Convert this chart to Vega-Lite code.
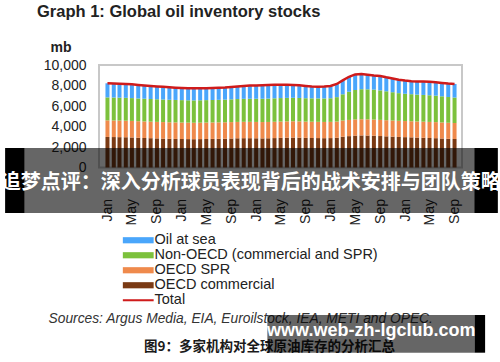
{
  "$schema": "https://vega.github.io/schema/vega-lite/v6.json",
  "width": 363,
  "height": 102.5,
  "autosize": {"type": "none"},
  "padding": {"left": 99, "top": 65, "right": 38, "bottom": 194.5},
  "background": "white",
  "title": {
    "text": "Graph 1: Global oil inventory stocks",
    "anchor": "start",
    "frame": "group",
    "dx": -62,
    "offset": 20,
    "font": "Liberation Sans",
    "fontSize": 16.5,
    "fontWeight": "bold",
    "color": "#222222"
  },
  "config": {
    "view": {"stroke": "#c8c8c8", "strokeWidth": 2},
    "font": "Liberation Sans",
    "axis": {"labelOverlap": false, "labelFlush": false, "labelBound": false}
  },
  "data": {
    "values": [
      {"date": "2017-01-15", "oecd_comm": 2980, "oecd_spr": 1620, "non_oecd": 2240, "sea": 1375, "total": 8215},
      {"date": "2017-02-15", "oecd_comm": 2970, "oecd_spr": 1619, "non_oecd": 2240, "sea": 1371, "total": 8200},
      {"date": "2017-03-15", "oecd_comm": 2960, "oecd_spr": 1618, "non_oecd": 2235, "sea": 1367, "total": 8180},
      {"date": "2017-04-15", "oecd_comm": 2950, "oecd_spr": 1617, "non_oecd": 2230, "sea": 1353, "total": 8150},
      {"date": "2017-05-15", "oecd_comm": 2930, "oecd_spr": 1616, "non_oecd": 2225, "sea": 1339, "total": 8110},
      {"date": "2017-06-15", "oecd_comm": 2900, "oecd_spr": 1615, "non_oecd": 2220, "sea": 1325, "total": 8060},
      {"date": "2017-07-15", "oecd_comm": 2880, "oecd_spr": 1614, "non_oecd": 2215, "sea": 1301, "total": 8010},
      {"date": "2017-08-15", "oecd_comm": 2860, "oecd_spr": 1613, "non_oecd": 2210, "sea": 1277, "total": 7960},
      {"date": "2017-09-15", "oecd_comm": 2840, "oecd_spr": 1612, "non_oecd": 2205, "sea": 1253, "total": 7910},
      {"date": "2017-10-15", "oecd_comm": 2820, "oecd_spr": 1611, "non_oecd": 2200, "sea": 1239, "total": 7870},
      {"date": "2017-11-15", "oecd_comm": 2800, "oecd_spr": 1610, "non_oecd": 2195, "sea": 1225, "total": 7830},
      {"date": "2017-12-15", "oecd_comm": 2790, "oecd_spr": 1609, "non_oecd": 2190, "sea": 1201, "total": 7790},
      {"date": "2018-01-15", "oecd_comm": 2780, "oecd_spr": 1608, "non_oecd": 2185, "sea": 1187, "total": 7760},
      {"date": "2018-02-15", "oecd_comm": 2770, "oecd_spr": 1607, "non_oecd": 2180, "sea": 1183, "total": 7740},
      {"date": "2018-03-15", "oecd_comm": 2760, "oecd_spr": 1606, "non_oecd": 2180, "sea": 1184, "total": 7730},
      {"date": "2018-04-15", "oecd_comm": 2770, "oecd_spr": 1605, "non_oecd": 2185, "sea": 1170, "total": 7730},
      {"date": "2018-05-15", "oecd_comm": 2780, "oecd_spr": 1604, "non_oecd": 2190, "sea": 1166, "total": 7740},
      {"date": "2018-06-15", "oecd_comm": 2790, "oecd_spr": 1603, "non_oecd": 2195, "sea": 1162, "total": 7750},
      {"date": "2018-07-15", "oecd_comm": 2800, "oecd_spr": 1602, "non_oecd": 2200, "sea": 1168, "total": 7770},
      {"date": "2018-08-15", "oecd_comm": 2810, "oecd_spr": 1601, "non_oecd": 2210, "sea": 1179, "total": 7800},
      {"date": "2018-09-15", "oecd_comm": 2830, "oecd_spr": 1600, "non_oecd": 2220, "sea": 1200, "total": 7850},
      {"date": "2018-10-15", "oecd_comm": 2850, "oecd_spr": 1599, "non_oecd": 2230, "sea": 1221, "total": 7900},
      {"date": "2018-11-15", "oecd_comm": 2860, "oecd_spr": 1598, "non_oecd": 2240, "sea": 1252, "total": 7950},
      {"date": "2018-12-15", "oecd_comm": 2860, "oecd_spr": 1597, "non_oecd": 2250, "sea": 1283, "total": 7990},
      {"date": "2019-01-15", "oecd_comm": 2850, "oecd_spr": 1596, "non_oecd": 2260, "sea": 1294, "total": 8000},
      {"date": "2019-02-15", "oecd_comm": 2840, "oecd_spr": 1595, "non_oecd": 2270, "sea": 1315, "total": 8020},
      {"date": "2019-03-15", "oecd_comm": 2850, "oecd_spr": 1594, "non_oecd": 2280, "sea": 1326, "total": 8050},
      {"date": "2019-04-15", "oecd_comm": 2870, "oecd_spr": 1593, "non_oecd": 2285, "sea": 1322, "total": 8070},
      {"date": "2019-05-15", "oecd_comm": 2890, "oecd_spr": 1592, "non_oecd": 2290, "sea": 1308, "total": 8080},
      {"date": "2019-06-15", "oecd_comm": 2910, "oecd_spr": 1591, "non_oecd": 2290, "sea": 1289, "total": 8080},
      {"date": "2019-07-15", "oecd_comm": 2920, "oecd_spr": 1590, "non_oecd": 2290, "sea": 1260, "total": 8060},
      {"date": "2019-08-15", "oecd_comm": 2910, "oecd_spr": 1589, "non_oecd": 2285, "sea": 1236, "total": 8020},
      {"date": "2019-09-15", "oecd_comm": 2890, "oecd_spr": 1588, "non_oecd": 2280, "sea": 1202, "total": 7960},
      {"date": "2019-10-15", "oecd_comm": 2880, "oecd_spr": 1587, "non_oecd": 2280, "sea": 1163, "total": 7910},
      {"date": "2019-11-15", "oecd_comm": 2870, "oecd_spr": 1586, "non_oecd": 2285, "sea": 1149, "total": 7890},
      {"date": "2019-12-15", "oecd_comm": 2860, "oecd_spr": 1585, "non_oecd": 2290, "sea": 1165, "total": 7900},
      {"date": "2020-01-15", "oecd_comm": 2870, "oecd_spr": 1584, "non_oecd": 2300, "sea": 1196, "total": 7950},
      {"date": "2020-02-15", "oecd_comm": 2900, "oecd_spr": 1583, "non_oecd": 2380, "sea": 1287, "total": 8150},
      {"date": "2020-03-15", "oecd_comm": 3000, "oecd_spr": 1582, "non_oecd": 2560, "sea": 1358, "total": 8500},
      {"date": "2020-04-15", "oecd_comm": 3060, "oecd_spr": 1581, "non_oecd": 2750, "sea": 1459, "total": 8850},
      {"date": "2020-05-15", "oecd_comm": 3110, "oecd_spr": 1580, "non_oecd": 2870, "sea": 1520, "total": 9080},
      {"date": "2020-06-15", "oecd_comm": 3130, "oecd_spr": 1579, "non_oecd": 2930, "sea": 1481, "total": 9120},
      {"date": "2020-07-15", "oecd_comm": 3120, "oecd_spr": 1578, "non_oecd": 2930, "sea": 1422, "total": 9050},
      {"date": "2020-08-15", "oecd_comm": 3100, "oecd_spr": 1577, "non_oecd": 2920, "sea": 1383, "total": 8980},
      {"date": "2020-09-15", "oecd_comm": 3070, "oecd_spr": 1576, "non_oecd": 2880, "sea": 1404, "total": 8930},
      {"date": "2020-10-15", "oecd_comm": 3040, "oecd_spr": 1575, "non_oecd": 2820, "sea": 1365, "total": 8800},
      {"date": "2020-11-15", "oecd_comm": 3010, "oecd_spr": 1574, "non_oecd": 2760, "sea": 1336, "total": 8680},
      {"date": "2020-12-15", "oecd_comm": 2980, "oecd_spr": 1573, "non_oecd": 2700, "sea": 1307, "total": 8560},
      {"date": "2021-01-15", "oecd_comm": 2960, "oecd_spr": 1572, "non_oecd": 2660, "sea": 1288, "total": 8480},
      {"date": "2021-02-15", "oecd_comm": 2940, "oecd_spr": 1571, "non_oecd": 2640, "sea": 1269, "total": 8420},
      {"date": "2021-03-15", "oecd_comm": 2920, "oecd_spr": 1570, "non_oecd": 2620, "sea": 1280, "total": 8390},
      {"date": "2021-04-15", "oecd_comm": 2900, "oecd_spr": 1569, "non_oecd": 2610, "sea": 1301, "total": 8380},
      {"date": "2021-05-15", "oecd_comm": 2880, "oecd_spr": 1568, "non_oecd": 2600, "sea": 1322, "total": 8370},
      {"date": "2021-06-15", "oecd_comm": 2860, "oecd_spr": 1567, "non_oecd": 2580, "sea": 1313, "total": 8320},
      {"date": "2021-07-15", "oecd_comm": 2830, "oecd_spr": 1566, "non_oecd": 2550, "sea": 1304, "total": 8250},
      {"date": "2021-08-15", "oecd_comm": 2800, "oecd_spr": 1565, "non_oecd": 2510, "sea": 1315, "total": 8190},
      {"date": "2021-09-15", "oecd_comm": 2780, "oecd_spr": 1564, "non_oecd": 2480, "sea": 1326, "total": 8150}
    ]
  },
  "layer": [
    {
      "transform": [
        {"fold": ["oecd_comm", "oecd_spr", "non_oecd", "sea"], "as": ["series", "value"]},
        {"window": [{"op": "row_number", "as": "rank"}], "groupby": ["date"]}
      ],
      "mark": {"type": "bar", "width": 4},
      "encoding": {
        "x": {
          "field": "date",
          "type": "temporal",
          "scale": {
            "type": "utc",
            "domain": [
              {"year": 2016, "month": 12, "date": 29, "utc": true},
              {"year": 2021, "month": 9, "date": 27, "utc": true}
            ]
          },
          "axis": {
            "values": [
              {"year": 2017, "month": 1, "date": 15, "utc": true},
              {"year": 2017, "month": 5, "date": 15, "utc": true},
              {"year": 2017, "month": 9, "date": 15, "utc": true},
              {"year": 2018, "month": 1, "date": 15, "utc": true},
              {"year": 2018, "month": 5, "date": 15, "utc": true},
              {"year": 2018, "month": 9, "date": 15, "utc": true},
              {"year": 2019, "month": 1, "date": 15, "utc": true},
              {"year": 2019, "month": 5, "date": 15, "utc": true},
              {"year": 2019, "month": 9, "date": 15, "utc": true},
              {"year": 2020, "month": 1, "date": 15, "utc": true},
              {"year": 2020, "month": 5, "date": 15, "utc": true},
              {"year": 2020, "month": 9, "date": 15, "utc": true},
              {"year": 2021, "month": 1, "date": 15, "utc": true},
              {"year": 2021, "month": 5, "date": 15, "utc": true},
              {"year": 2021, "month": 9, "date": 15, "utc": true}
            ],
            "tickCount": 100,
            "format": "%b",
            "labelAngle": -90,
            "labelFontSize": 14,
            "labelColor": "#222222",
            "labelPadding": 31,
            "labelFlush": false,
            "labelOverlap": false,
            "ticks": false,
            "tickSize": 0,
            "domain": false,
            "grid": false,
            "title": "Sources: Argus Media, EIA, Euroilstock, IEA, METI and OPEC.",
            "titleFontStyle": "italic",
            "titleFontWeight": "normal",
            "titleFontSize": 13.8,
            "titleColor": "#333333",
            "titleAlign": "left",
            "titleBaseline": "alphabetic",
            "titleX": -51,
            "titleY": 154.5
          }
        },
        "y": {
          "field": "value",
          "type": "quantitative",
          "stack": "zero",
          "scale": {"domain": [0, 10000], "nice": false},
          "axis": {
            "values": [0, 2000, 4000, 6000, 8000, 10000],
            "tickCount": 100,
            "format": ",d",
            "labelFontSize": 14,
            "labelColor": "#222222",
            "labelPadding": 13,
            "labelOverlap": false,
            "ticks": false,
            "tickSize": 0,
            "domain": false,
            "grid": false,
            "title": "mb",
            "titleAngle": 0,
            "titleAlign": "left",
            "titleBaseline": "alphabetic",
            "titleX": -49,
            "titleY": -14,
            "titleFontSize": 14,
            "titleFontWeight": "bold",
            "titleColor": "#222222"
          }
        },
        "color": {
          "field": "series",
          "type": "nominal",
          "scale": {
            "domain": ["sea", "non_oecd", "oecd_spr", "oecd_comm", "total"],
            "range": ["#4aa6fb", "#7cc13c", "#ef8a4c", "#7a3a14", "#cf1b1b"]
          },
          "legend": {
            "orient": "none",
            "legendX": 32,
            "legendY": 168,
            "direction": "vertical",
            "title": null,
            "padding": 0,
            "rowPadding": 0,
            "labelFontSize": 14.5,
            "labelColor": "#222222",
            "labelLimit": 400,
            "labelOffset": 9,
            "symbolSize": 38,
            "symbolStrokeWidth": 0,
            "labelExpr": "datum.value === 'sea' ? 'Oil at sea' : datum.value === 'non_oecd' ? 'Non-OECD (commercial and SPR)' : datum.value === 'oecd_spr' ? 'OECD SPR' : datum.value === 'oecd_comm' ? 'OECD commercial' : 'Total'",
            "encode": {
              "symbols": {
                "update": {
                  "shape": {"signal": "datum.value === 'total' ? 'M-5,-0.33H5V0.33H-5Z' : 'M-5,-1H5V1H-5Z'"},
                  "fill": {"scale": "color", "field": "value"},
                  "stroke": {"value": "transparent"},
                  "strokeWidth": {"value": 0},
                  "opacity": {"value": 1}
                }
              }
            }
          }
        },
        "order": {"field": "rank", "type": "quantitative", "sort": "ascending"}
      }
    },
    {
      "mark": {"type": "line", "strokeWidth": 2.5},
      "encoding": {
        "x": {"field": "date", "type": "temporal"},
        "y": {"field": "total", "type": "quantitative"},
        "color": {"datum": "total", "type": "nominal"}
      }
    },
    {
      "data": {"values": [{}]},
      "mark": {"type": "rect", "color": "#000000", "opacity": 0.6, "clip": false},
      "encoding": {
        "x": {"datum": {"year": 2015, "month": 9, "date": 1, "utc": true}, "type": "temporal"},
        "x2": {"datum": {"year": 2022, "month": 4, "date": 15, "utc": true}},
        "y": {"datum": 1902, "type": "quantitative"},
        "y2": {"datum": -4439}
      }
    },
    {
      "data": {"values": [{}]},
      "mark": {"type": "rect", "color": "#000000", "opacity": 1, "clip": false},
      "encoding": {
        "x": {"datum": {"year": 2015, "month": 9, "date": 1, "utc": true}, "type": "temporal"},
        "x2": {"datum": {"year": 2015, "month": 12, "date": 4, "utc": true}},
        "y": {"datum": 1902, "type": "quantitative"},
        "y2": {"datum": -4439}
      }
    },
    {
      "data": {"values": [{}]},
      "mark": {"type": "rect", "color": "#000000", "opacity": 1, "clip": false},
      "encoding": {
        "x": {"datum": {"year": 2021, "month": 12, "date": 22, "utc": true}, "type": "temporal"},
        "x2": {"datum": {"year": 2022, "month": 4, "date": 15, "utc": true}},
        "y": {"datum": 1902, "type": "quantitative"},
        "y2": {"datum": -4439}
      }
    },
    {
      "data": {"values": [{}]},
      "mark": {"type": "text", "text": "追梦点评：深入分析球员表现背后的战术安排与团队策略", "font": "Noto Sans CJK SC", "fontSize": 20, "fontWeight": "bold", "color": "#ffffff", "align": "center", "baseline": "middle", "clip": false},
      "encoding": {
        "x": {"datum": {"year": 2018, "month": 12, "date": 20, "utc": true}, "type": "temporal"},
        "y": {"datum": -1512, "type": "quantitative"}
      }
    },
    {
      "data": {"values": [{}]},
      "mark": {"type": "text", "text": "图9：多家机构对全球原油库存的分析汇总", "font": "Noto Sans CJK SC", "fontSize": 13.5, "fontWeight": "bold", "color": "#1a1a1a", "align": "center", "baseline": "middle", "clip": false},
      "encoding": {
        "x": {"datum": {"year": 2019, "month": 3, "date": 21, "utc": true}, "type": "temporal"},
        "y": {"datum": -17512, "type": "quantitative"}
      }
    },
    {
      "data": {"values": [{}]},
      "mark": {"type": "rect", "color": "#000000", "opacity": 0.6, "clip": false},
      "encoding": {
        "x": {"datum": {"year": 2019, "month": 3, "date": 11, "utc": true}, "type": "temporal"},
        "x2": {"datum": {"year": 2021, "month": 12, "date": 22, "utc": true}},
        "y": {"datum": -14390, "type": "quantitative"},
        "y2": {"datum": -18068}
      }
    },
    {
      "data": {"values": [{}]},
      "mark": {"type": "rect", "color": "#000000", "opacity": 1, "clip": false},
      "encoding": {
        "x": {"datum": {"year": 2021, "month": 12, "date": 22, "utc": true}, "type": "temporal"},
        "x2": {"datum": {"year": 2022, "month": 2, "date": 12, "utc": true}},
        "y": {"datum": -14390, "type": "quantitative"},
        "y2": {"datum": -18068}
      }
    },
    {
      "data": {"values": [{}]},
      "mark": {"type": "text", "text": "www.web-zh-lgclub.com", "font": "Liberation Sans", "fontSize": 18, "fontWeight": "bold", "color": "#ffffff", "align": "center", "baseline": "middle", "clip": false},
      "encoding": {
        "x": {"datum": {"year": 2020, "month": 8, "date": 2, "utc": true}, "type": "temporal"},
        "y": {"datum": -15951, "type": "quantitative"}
      }
    }
  ]
}
